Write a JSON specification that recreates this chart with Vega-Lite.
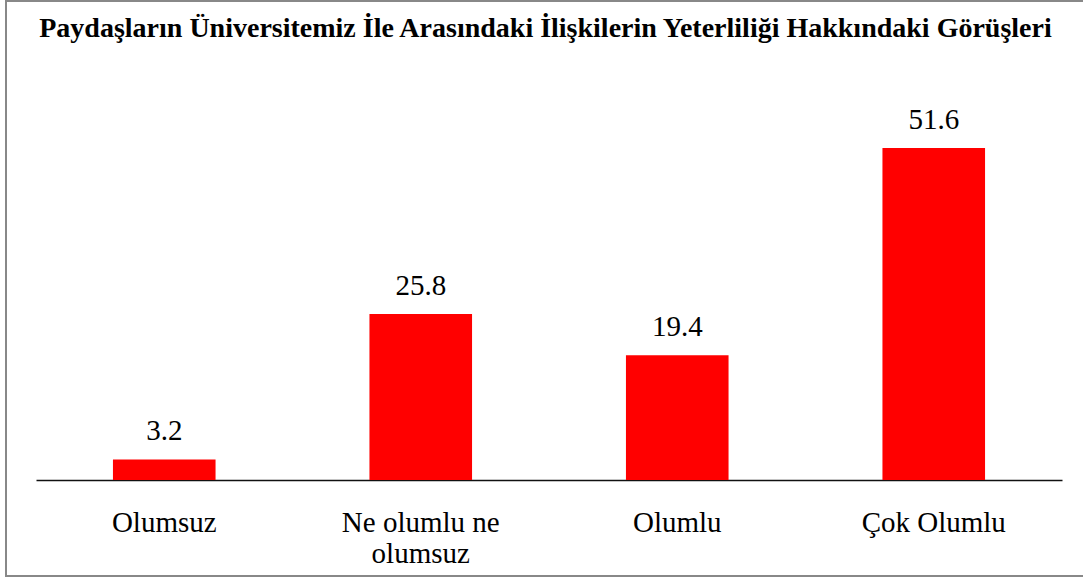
{
  "$schema": "https://vega.github.io/schema/vega-lite/v6.json",
  "width": 1079,
  "height": 575,
  "autosize": {"type": "none"},
  "padding": {"left": 6, "top": 1, "right": -2, "bottom": 2},
  "background": "white",
  "title": {
    "text": "Paydaşların Üniversitemiz İle Arasındaki İlişkilerin Yeterliliği Hakkındaki Görüşleri",
    "font": "Liberation Serif",
    "fontSize": 28,
    "fontWeight": "bold",
    "color": "black",
    "anchor": "middle",
    "frame": "group",
    "offset": -64,
    "baseline": "alphabetic"
  },
  "data": {
    "values": [
      {"kategori": "Olumsuz", "yuzde": 3.2},
      {"kategori": "Ne olumlu ne olumsuz", "yuzde": 25.8},
      {"kategori": "Olumlu", "yuzde": 19.4},
      {"kategori": "Çok Olumlu", "yuzde": 51.6}
    ]
  },
  "encoding": {
    "x": {
      "field": "kategori",
      "type": "nominal",
      "sort": null,
      "scale": {"range": [30, 1056], "paddingInner": 0.6, "paddingOuter": 0.3},
      "axis": {
        "title": null,
        "orient": "bottom",
        "offset": -96,
        "labelAngle": 0,
        "labelFont": "Liberation Serif",
        "labelFontSize": 29,
        "labelColor": "black",
        "labelBaseline": "alphabetic",
        "labelPadding": 51,
        "labelLineHeight": 31,
        "labelLimit": 400,
        "ticks": false,
        "tickSize": 0,
        "domainColor": "#111111",
        "domainWidth": 1.5,
        "labelExpr": "datum.value == 'Ne olumlu ne olumsuz' ? ['Ne olumlu ne', 'olumsuz'] : datum.value"
      }
    },
    "y": {
      "field": "yuzde",
      "type": "quantitative",
      "scale": {"domain": [0, 60], "range": [479, 93], "nice": false, "zero": true},
      "axis": null
    }
  },
  "layer": [
    {"mark": {"type": "bar", "color": "#FF0000"}},
    {
      "mark": {"type": "text", "dy": -19, "baseline": "alphabetic", "font": "Liberation Serif", "fontSize": 29, "color": "black"},
      "encoding": {"text": {"field": "yuzde", "type": "quantitative", "format": ".1f"}}
    }
  ],
  "config": {
    "view": {"stroke": "#888888", "strokeWidth": 2}
  }
}
